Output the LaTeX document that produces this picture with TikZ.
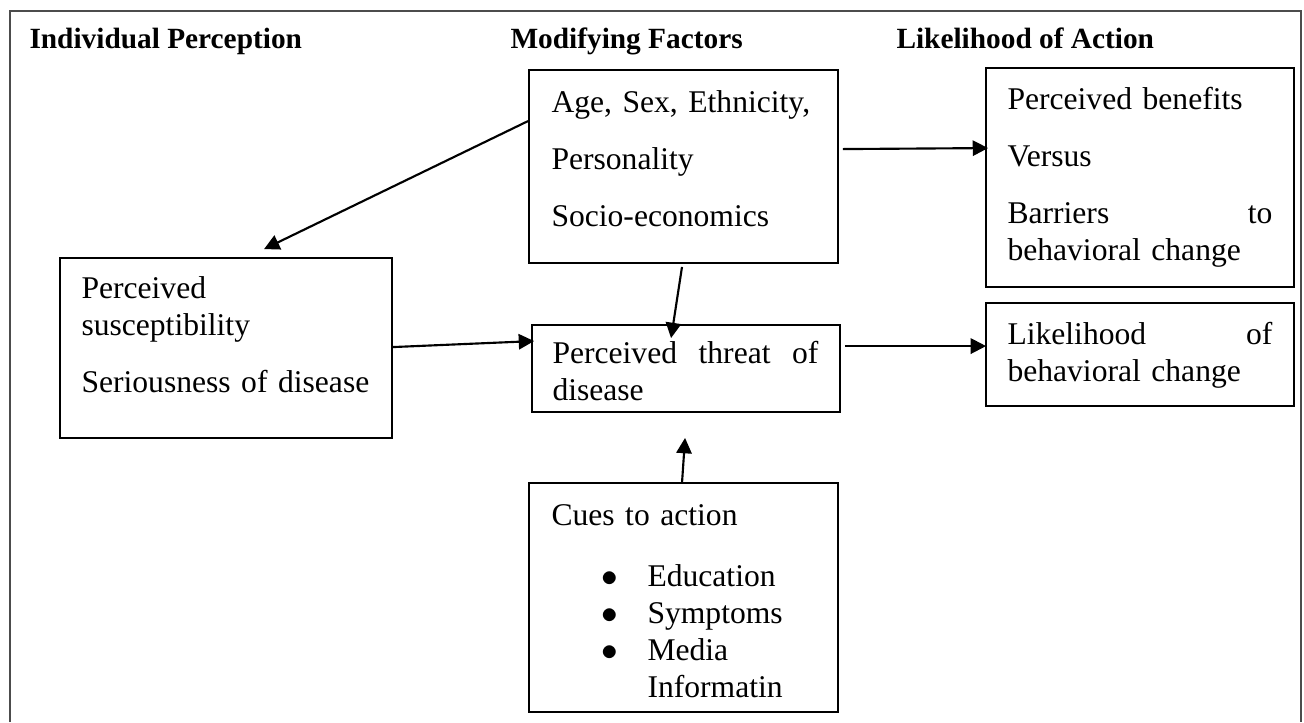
\documentclass[tikz,border=0pt]{standalone}
\usepackage{fontspec}
\setmainfont{Liberation Serif}
\usetikzlibrary{arrows.meta,calc,fit}

\tikzset{every picture/.style={line width=0.75pt}}
\tikzset{
  box/.style={draw, line width=1.4pt, inner sep=0pt},
  txt/.style={anchor=base west, inner sep=0pt, align=left, font=\fontsize{23.7pt}{27.75pt}\selectfont},
  head/.style={anchor=base west, inner sep=0pt, font=\fontsize{22pt}{26pt}\selectfont\bfseries},
  link/.style={line width=1.6pt, -{Triangle[length=11.5pt,width=11.5pt]}}
}
\newcommand{\cue}{\makebox[34.5pt][l]{$\bullet$}}

\begin{document}
\begin{tikzpicture}[x=0.75pt,y=0.75pt,yscale=-1,xscale=1]
\useasboundingbox (0,0) rectangle (1304,722);

%Frame
\draw [line width=1.5pt, color=black!70] (10,722) -- (10,11) -- (1301,11) -- (1301,722);

% Column headings
\node[head] (hdPerc) at (29,48) {Individual Perception};
\node[head] (hdMod) at (510,48) {Modifying Factors};
\node[head] (hdAct) at (896,48) {Likelihood of Action};

%Shape: Boxes
\node[box, fit={(529,70) (838,263)}] (boxA) {};
\node[box, fit={(532,325) (840,412)}] (boxB) {};
\node[box, fit={(60,258) (392,438)}] (boxC) {};
\node[box, fit={(986,68) (1294,287)}] (boxD) {};
\node[box, fit={(986,303) (1294,406)}] (boxE) {};
\node[box, fit={(529,483) (838,712)}] (boxF) {};

% Text Node
\node[txt, text width=200pt] (txtA) at (551,112) {Age, Sex, Ethnicity,\\[15pt]Personality\\[15pt]Socio-economics};
% Text Node
\node[txt, text width=199.5pt] (txtB) at (552,363) {Perceived\hfill threat\hfill of\\disease};
% Text Node
\node[txt, text width=220pt] (txtC) at (81,298) {Perceived\\susceptibility\\[15pt]Seriousness of disease};
% Text Node
\node[txt, text width=198.75pt] (txtD) at (1007,109) {Perceived benefits\\[15pt]Versus\\[15pt]Barriers\hfill to\\behavioral change};
% Text Node
\node[txt, text width=198.75pt] (txtE) at (1007,344) {Likelihood\hfill of\\behavioral change};
% Text Node
\node[txt, text width=210pt] (txtF) at (551,525) {Cues to action\\[18pt]
  \hspace*{37.5pt}\cue Education\\
  \hspace*{37.5pt}\cue Symptoms\\
  \hspace*{37.5pt}\cue Media\\
  \hspace*{72pt}Informatin};

%Straight Lines: arrows
\draw[link] ($(boxA.north west)+(0,52)$) -- ($(boxC.north west)+(205,-8)$);
\draw[link] ($(boxA.north east)+(4,80)$) -- ($(boxD.north west)+(3,81)$);
\draw[link] ($(boxA.south)+(-1.5,3)$) -- ($(boxB.north west)+(140,14)$);
\draw[link] ($(boxC.north east)+(0,90)$) -- ($(boxB.north west)+(3,17)$);
\draw[link] ($(boxB.north east)+(4,22)$) -- ($(boxE.north west)+(1,44)$);
\draw[link] ($(boxF.north west)+(154,0)$) -- ($(boxB.south west)+(154,25)$);

\end{tikzpicture}
\end{document}
